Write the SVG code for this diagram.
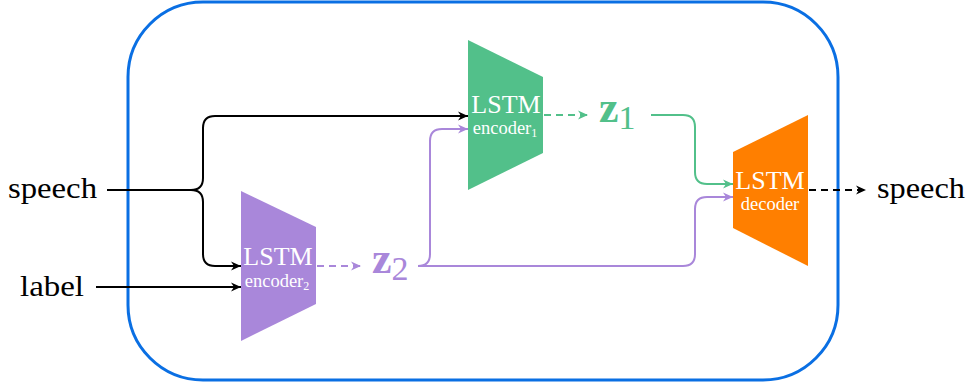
<svg xmlns="http://www.w3.org/2000/svg" width="968" height="383" viewBox="0 0 968 383">
<style>
text{font-family:'Liberation Serif','DejaVu Serif',serif}
.lbl{fill:#000;font-size:30px}
.in{fill:#fff;text-anchor:middle}
.big{font-size:26px}
.small{font-size:18.5px}
.sub{font-size:12px}
.c{fill:none;stroke-width:2}
.k{stroke:#000}
.g{stroke:#52c08a}
.p{stroke:#a987da}
.d{stroke-dasharray:7 5}
</style>
<defs>
<marker id="ak" markerUnits="userSpaceOnUse" markerWidth="12" markerHeight="10" refX="11" refY="5" orient="auto" viewBox="0 0 12 10"><path d="M11,5 L1,0.5 L4,5 L1,9.5 Z" fill="#000"/></marker>
<marker id="ag" markerUnits="userSpaceOnUse" markerWidth="12" markerHeight="10" refX="11" refY="5" orient="auto" viewBox="0 0 12 10"><path d="M11,5 L1,0.5 L4,5 L1,9.5 Z" fill="#52c08a"/></marker>
<marker id="ap" markerUnits="userSpaceOnUse" markerWidth="12" markerHeight="10" refX="11" refY="5" orient="auto" viewBox="0 0 12 10"><path d="M11,5 L1,0.5 L4,5 L1,9.5 Z" fill="#a987da"/></marker>
</defs>
<rect id="frame" x="128" y="2" width="710" height="378" rx="75" ry="75" fill="none" stroke="#0a6fe3" stroke-width="3"/>
<g id="connectors">
<path class="c k" d="M107,190 H191 Q203,190 203,178 V128 Q203,116 215,116 H468" marker-end="url(#ak)"/>
<path class="c k" d="M191,190 Q203,190 203,202 V254 Q203,266 215,266 H241" marker-end="url(#ak)"/>
<path class="c k" d="M96,287 H241" marker-end="url(#ak)"/>
<path class="c g d" d="M544,115 H588" marker-end="url(#ag)"/>
<path class="c p d" d="M317,266 H361" marker-end="url(#ap)"/>
<path class="c k d" d="M809,190 H866" marker-end="url(#ak)"/>
<path class="c g" d="M651,115 H683 Q695,115 695,127 V172 Q695,184 707,184 H733" marker-end="url(#ag)"/>
<path class="c p" d="M418,266 Q430,266 430,254 V141 Q430,129 442,129 H468" marker-end="url(#ap)"/>
<path class="c p" d="M418,266 H683 Q695,266 695,254 V209 Q695,197 707,197 H733" marker-end="url(#ap)"/>
</g>
<g id="speech-in"><text class="lbl" x="8" y="198" textLength="89" lengthAdjust="spacingAndGlyphs">speech</text></g>
<g id="label-in"><text class="lbl" x="20" y="296" textLength="64" lengthAdjust="spacingAndGlyphs">label</text></g>
<g id="speech-out"><text class="lbl" x="877" y="198" textLength="88" lengthAdjust="spacingAndGlyphs">speech</text></g>
<g id="encoder1">
<polygon points="468,40 543,77 543,153 468,190" fill="#52c08a"/>
<text class="in big" x="506" y="113">LSTM</text>
<text class="in small" x="505" y="134">encoder<tspan class="sub" dy="3">1</tspan></text>
</g>
<g id="encoder2">
<polygon points="241,191 316,227 316,304 241,341" fill="#a987da"/>
<text class="in big" x="278" y="265">LSTM</text>
<text class="in small" x="277" y="287">encoder<tspan class="sub" dy="3">2</tspan></text>
</g>
<g id="decoder">
<polygon points="733,152 808,115 808,266 733,228" fill="#ff7f00"/>
<text class="in big" x="770" y="189">LSTM</text>
<text class="in small" x="770" y="210">decoder</text>
</g>
<g id="z1"><text x="599" y="122" fill="#52c08a"><tspan font-weight="bold" font-size="44px">z</tspan><tspan font-size="34px" dy="7">1</tspan></text></g>
<g id="z2"><text x="372" y="273" fill="#a987da"><tspan font-weight="bold" font-size="44px">z</tspan><tspan font-size="34px" dy="7">2</tspan></text></g>
</svg>
